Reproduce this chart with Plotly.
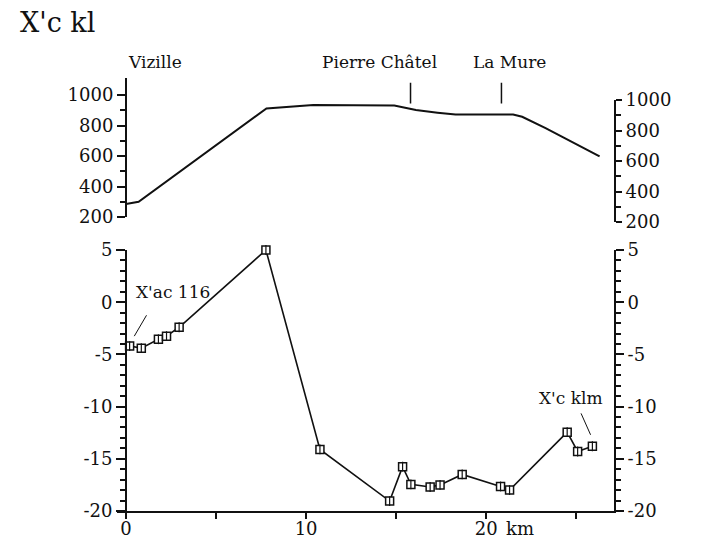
import plotly.graph_objects as go

# ---------------- data ----------------
profile_km = [0.0, 0.7, 7.8, 8.6, 10.4, 14.9, 15.5, 16.1, 17.3, 18.3, 21.5, 22.0, 23.3, 25.1, 26.3]
profile_alt = [285, 300, 912, 920, 935, 931, 916, 901, 884, 872, 872, 857, 783, 674, 598]

town_names = ["Vizille", "Pierre Châtel", "La Mure"]
town_km = [0.0, 15.8, 20.85]

sample_km = [0.2, 0.85, 1.8, 2.25, 2.95, 7.77, 10.77, 14.64, 15.36, 15.82, 16.89, 17.44,
             18.67, 20.8, 21.3, 24.5, 25.08, 25.9]
sample_val = [-4.2, -4.4, -3.55, -3.25, -2.4, 5.0, -14.1, -19.05, -15.75, -17.45, -17.7, -17.5,
              -16.5, -17.65, -18.0, -12.45, -14.3, -13.8]

alt_ticks = [200, 400, 600, 800, 1000]
alt_minor = [300, 500, 700, 900]
val_ticks = [5, 0, -5, -10, -15, -20]
val_labels = ["5", "0", "-5", "-10", "-15", "-20"]
km_ticks = [0, 5, 10, 15, 20, 25]
km_labels = ["0", "", "10", "", "20", ""]

# ---------------- layout constants ----------------
W, H = 702, 541
OFF = 8  # page body margin
# plot area in reference pixels: x 117..614, y 60..511
L, R, T, B = 117 - OFF, W - (614 - OFF), 60 - OFF, H - (511 - OFF)
PLOT_H = H - T - B
PLOT_W = W - L - R
X_RANGE = [-0.5, 27.1]
FONT = "DejaVu Serif"
INK = "#111111"


def fy(p):
    return (511 - p) / PLOT_H


def fx(p):
    return (p - 117) / PLOT_W


left_pos = (0 - X_RANGE[0]) / (X_RANGE[1] - X_RANGE[0])

fig = go.Figure()

# elevation profile
fig.add_trace(go.Scatter(x=profile_km, y=profile_alt, xaxis="x", yaxis="y2", mode="lines",
                         line=dict(color=INK, width=2), hoverinfo="skip"))
# town markers (Vizille is the axis line itself)
for km in town_km[1:]:
    fig.add_trace(go.Scatter(x=[km, km], y=[945, 1080], xaxis="x", yaxis="y2", mode="lines",
                             line=dict(color=INK, width=1.5), hoverinfo="skip"))
fig.add_trace(go.Scatter(x=[None], y=[None], xaxis="x", yaxis="y3"))

# series
fig.add_trace(go.Scatter(x=sample_km, y=sample_val, xaxis="x", yaxis="y", mode="lines+markers",
                         line=dict(color=INK, width=1.6), cliponaxis=False,
                         marker=dict(symbol="square", size=8, color="white",
                                     line=dict(color=INK, width=1.5))))
fig.add_trace(go.Scatter(x=sample_km, y=sample_val, xaxis="x", yaxis="y", mode="markers",
                         cliponaxis=False,
                         marker=dict(symbol="line-ns", size=7, line=dict(color=INK, width=1.2))))
# leader lines
fig.add_trace(go.Scatter(x=[1.14, 0.46], y=[-1.25, -3.25], xaxis="x", yaxis="y", mode="lines",
                         line=dict(color=INK, width=1)))
fig.add_trace(go.Scatter(x=[25.27, 25.8], y=[-10.65, -12.7], xaxis="x", yaxis="y", mode="lines",
                         line=dict(color=INK, width=1)))
fig.add_trace(go.Scatter(x=[None], y=[None], xaxis="x", yaxis="y4"))

tickfont = dict(family=FONT, size=18, color=INK)
common = dict(showline=True, linecolor=INK, linewidth=2, ticks="outside", tickcolor=INK,
              tickwidth=1.5, showgrid=False, zeroline=False, tickfont=tickfont,
              automargin=False)

fig.update_layout(
    width=W, height=H,
    margin=dict(l=L, r=R, t=T, b=B, autoexpand=False),
    paper_bgcolor="white", plot_bgcolor="rgba(0,0,0,0)",
    showlegend=False,
    xaxis=dict(domain=[0, 1], range=X_RANGE, anchor="y", tickmode="array",
               tickvals=km_ticks, ticktext=km_labels, ticklen=6, ticklabelstandoff=-6,
               **common),
    yaxis=dict(domain=[0, fy(250)], range=[-20, 5], anchor="free", position=left_pos,
               tickmode="array", tickvals=val_ticks, ticktext=val_labels, ticklen=9,
               minor=dict(ticks="outside", tickmode="linear", tick0=0, dtick=1, ticklen=5,
                          tickwidth=1.5, tickcolor=INK),
               **common),
    yaxis4=dict(overlaying="y", side="right", anchor="x", range=[-20, 5],
                tickmode="array", tickvals=val_ticks, ticktext=val_labels, ticklen=8,
                minor=dict(ticks="outside", tickmode="linear", tick0=0, dtick=1, ticklen=5,
                           tickwidth=1.5, tickcolor=INK),
                **common),
    yaxis2=dict(domain=[fy(217), fy(217 - 910 * 0.1525)], range=[200, 1110], anchor="free",
                position=left_pos, tickmode="array", tickvals=alt_ticks, ticklen=8,
                minor=dict(ticks="outside", tickmode="array", tickvals=alt_minor, ticklen=5,
                           tickwidth=1.5, tickcolor=INK),
                **common),
    yaxis3=dict(domain=[fy(222), fy(100)], range=[200, 1000], anchor="x", side="right",
                tickmode="array", tickvals=alt_ticks, ticklen=6,
                minor=dict(ticks="outside", tickmode="array", tickvals=alt_minor, ticklen=5,
                           tickwidth=1.5, tickcolor=INK),
                **common),
)

annfont = dict(family=FONT, size=17, color=INK)
anns = [
    dict(text="X'c kl", xref="paper", yref="paper", x=fx(18), y=fy(22), xanchor="left",
         yanchor="middle", showarrow=False, font=dict(family=FONT, size=27, color=INK)),
    dict(text=town_names[0], xref="x", yref="paper", x=1.6, y=fy(62), yanchor="middle",
         showarrow=False, font=annfont),
    dict(text=town_names[1], xref="x", yref="paper", x=14.1, y=fy(62), yanchor="middle",
         showarrow=False, font=annfont),
    dict(text=town_names[2], xref="x", yref="paper", x=21.3, y=fy(62), yanchor="middle",
         showarrow=False, font=annfont),
    dict(text="X'ac 116", xref="x", yref="y", x=0.45, y=1.0, xanchor="left", showarrow=False,
         font=annfont),
    dict(text="X'c klm", xref="x", yref="y", x=26.6, y=-9.2, xanchor="right", showarrow=False,
         font=annfont),
    dict(text="km", xref="x", yref="paper", x=21.9, y=fy(528), yanchor="middle",
         showarrow=False, font=dict(family=FONT, size=18, color=INK)),
]
fig.update_layout(annotations=anns)

fig.write_html("out.html")
